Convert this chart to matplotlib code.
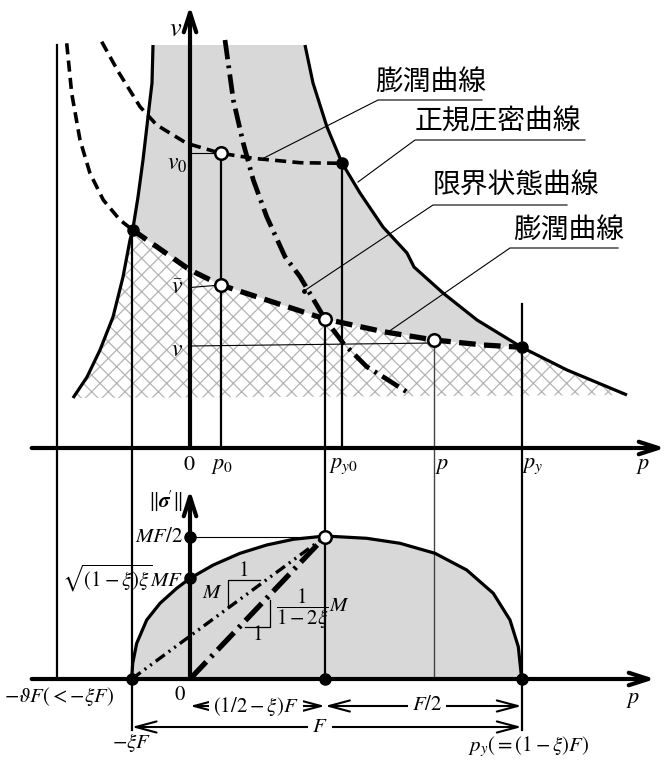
import matplotlib.pyplot as plt

plt.rcParams['font.family'] = ['Liberation Serif', 'DejaVu Serif']
plt.rcParams['mathtext.fontset'] = 'stix'
plt.rcParams['lines.scale_dashes'] = False
plt.rcParams['hatch.linewidth'] = 0.9

# ---- upper diagram (p - v plane), coordinates
ncl_left_x = [153, 152, 148, 143, 138, 132.7, 130, 123, 113, 100, 87, 73]
ncl_left_y = [45, 83, 117, 160, 197, 230, 240, 277, 317, 350, 377, 398]
ncl_right_x = [305, 313, 327, 342, 360, 383, 407, 414, 443, 477, 521.7, 567, 627]
ncl_right_y = [45, 83, 127, 163, 193, 227, 253, 267, 293, 320, 347.3, 370, 395]
i_left, i_right = 5, 10

swell_up_x = [101.7, 118.3, 140, 156.7, 186.7, 220.7, 253.3, 300, 341.7]
swell_up_y = [41.7, 71.7, 106.7, 125, 143.3, 153.3, 158.3, 162.7, 163.3]

swell_lo_left_x = [66.7, 71.7, 80, 90, 103.3, 120, 132.7]
swell_lo_left_y = [43.3, 93.3, 140, 173.3, 200, 220, 230]
swell_lo_x = [132.7, 156.7, 190, 220.7, 266.7, 325, 383.3, 434.3, 483.3, 521.7]
swell_lo_y = [230, 246.7, 270, 285, 300, 319, 331.7, 340, 345, 347.3]

csl_x = [225, 233.3, 243.3, 253.3, 266.7, 285, 300, 325, 343.3, 366.7, 385, 410]
csl_y = [40, 100, 143.3, 180, 216.7, 256.7, 276.7, 319, 343.3, 366.7, 378, 394]

top_dots_x = [132.7, 341.7, 521.7]
top_dots_y = [230, 163.3, 347.3]
top_open_x = [220.7, 220.7, 325, 434.3]
top_open_y = [153.3, 285, 319, 340]

# ---- lower diagram (p - ||sigma'|| plane)
yield_x = [131.7, 132.7, 136.7, 146.7, 160, 176.7, 190, 213.3, 240, 266.7, 293.3, 325,
           366.7, 400, 435, 466.7, 493.3, 510, 518.3, 521.7]
yield_y = [679, 663.3, 643.3, 620, 603.3, 588.3, 578.3, 565, 553.3, 545, 539.3, 536,
           538.3, 543.3, 553.3, 570, 593.3, 620, 646.7, 679]
bot_dots_x = [131.7, 190, 190, 325, 521.7]
bot_dots_y = [679, 536.7, 578.3, 679, 679]

fig = plt.figure(figsize=(6.66, 7.62), dpi=100)
ax = fig.add_axes([0, 0, 1, 1])
ax.set_xlim(0, 666)
ax.set_ylim(762, 0)
ax.axis('off')

grey = '#d8d8d8'

# grey region between NCL branches above the swelling line
gx = ncl_right_x[:i_right + 1] + swell_lo_x[::-1] + ncl_left_x[:i_left + 1][::-1]
gy = ncl_right_y[:i_right + 1] + swell_lo_y[::-1] + ncl_left_y[:i_left + 1][::-1]
ax.fill(gx, gy, color=grey, lw=0, zorder=1)

# hatched region below swelling line
hx = swell_lo_x + ncl_right_x[i_right + 1:] + ncl_left_x[i_left:][::-1]
hy = swell_lo_y + ncl_right_y[i_right + 1:] + ncl_left_y[i_left:][::-1]
ax.fill(hx, hy, facecolor='white', edgecolor='#b4b4b4', hatch='xx', lw=0, zorder=1)

# lower ellipse
ax.fill(yield_x, yield_y, color=grey, lw=0, zorder=1)

# vertical guide lines
vlines = [(57.3, 45, 679, 1.6, 'k'), (131.7, 230, 730, 1.6, 'k'), (220.7, 153, 448, 1.6, 'k'),
          (325, 319, 679, 1.6, 'k'), (341.7, 163, 448, 1.6, 'k'), (434.3, 340, 679, 1.0, '#444444'),
          (521.7, 304, 730, 1.6, 'k')]
for x, y0, y1, w, c in vlines:
    ax.plot([x, x], [y0, y1], color=c, lw=w, zorder=2)

# thin horizontal reading lines
ax.plot([190, 220.7], [153.3, 153.3], color='k', lw=0.8, zorder=2)
ax.plot([190, 220.7], [287.5, 285], color='k', lw=0.8, zorder=2)
ax.plot([190, 434.3], [346, 343], color='k', lw=0.8, zorder=2)
ax.plot([190, 325], [536.7, 536.7], color='k', lw=0.8, zorder=2)

# curves
ax.plot(ncl_left_x, ncl_left_y, color='k', lw=2.3, zorder=4, solid_capstyle='butt')
ax.plot(ncl_right_x, ncl_right_y, color='k', lw=2.3, zorder=4, solid_capstyle='butt')
ax.plot(swell_up_x, swell_up_y, color='k', lw=2.6, ls=(0, (8, 4.5)), zorder=4)
ax.plot(swell_lo_left_x, swell_lo_left_y, color='k', lw=2.6, ls=(0, (8, 4.5)), zorder=4)
ax.plot(swell_lo_x, swell_lo_y, color='k', lw=3.8, ls=(0, (12, 6)), zorder=4)
ax.plot(csl_x, csl_y, color='k', lw=3.4, ls=(0, (14, 4.5, 2, 4.5)), zorder=4)
ax.plot(yield_x, yield_y, color='k', lw=2.3, zorder=4)

# lines to the apex in lower diagram
ax.plot([131.7, 325], [679, 536.7], color='k', lw=2.4, ls=(0, (8, 3.5, 1.5, 3.5, 1.5, 3.5)), zorder=4)
ax.plot([190, 325], [679, 536.7], color='k', lw=3.8, ls=(0, (17, 5, 2, 5)), zorder=4)

# slope triangles
ax.plot([260, 227.7, 227.7], [580, 580, 606.7], color='k', lw=0.9, zorder=3)
ax.plot([245, 270, 270], [626.7, 626.7, 600], color='k', lw=0.9, zorder=3)

# axes with arrows
arrow_kw = dict(arrowstyle='->,head_length=1.4,head_width=0.45', lw=3, color='k',
                shrinkA=0, shrinkB=0)
ax.annotate('', xy=(190, 6), xytext=(190, 448), arrowprops=arrow_kw, zorder=5)
ax.annotate('', xy=(665, 448), xytext=(31.7, 448), arrowprops=arrow_kw, zorder=5)
ax.annotate('', xy=(190, 490), xytext=(190, 679), arrowprops=arrow_kw, zorder=5)
ax.annotate('', xy=(655, 679), xytext=(31.7, 679), arrowprops=arrow_kw, zorder=5)

# dots
ax.plot(top_dots_x, top_dots_y, 'o', color='k', ms=8, zorder=6)
ax.plot(top_open_x, top_open_y, 'o', mfc='white', mec='k', mew=1.8, ms=9, zorder=6)
ax.plot(bot_dots_x, bot_dots_y, 'o', color='k', ms=8, zorder=6)
ax.plot([325], [536.7], 'o', mfc='white', mec='k', mew=1.8, ms=9, zorder=6)

# leader lines with underlined Japanese labels
jp = ['Noto Sans CJK JP', 'DejaVu Sans']
leaders = [([260, 378, 482], [160, 100, 100], '膨潤曲線', 375, 97),
           ([358, 415, 585], [182, 140, 140], '正規圧密曲線', 415, 137),
           ([304, 433, 567], [291, 205, 205], '限界状態曲線', 433, 200),
           ([388, 510, 618], [332, 248, 248], '膨潤曲線', 513, 245)]
for lx, ly, txt, tx, ty in leaders:
    ax.plot(lx, ly, color='k', lw=0.8, zorder=3)
    ax.text(tx, ty, txt, family=jp, fontsize=20, ha='left', va='bottom', zorder=7)
ax.plot([304], [291], 'o', color='k', ms=2.5, zorder=6)

# axis labels
fs = 17
ax.text(176, 30, '$v$', fontsize=19, ha='center', va='center')
ax.text(177, 164, '$v_0$', fontsize=fs, ha='center', va='center')
ax.text(177, 288, r'$\bar{v}$', fontsize=fs, ha='center', va='center')
ax.text(177, 351, '$v$', fontsize=fs, ha='center', va='center')

p_label_x = [189, 222, 344, 442, 533, 643]
p_label_txt = ['$0$', '$p_0$', '$p_{y0}$', '$p$', '$p_y$', '$p$']
for x, t in zip(p_label_x, p_label_txt):
    ax.text(x, 466, t, fontsize=16, ha='center', va='center')

ax.text(183, 501, r"$\Vert\boldsymbol{\sigma}\!'\Vert$", fontsize=15, ha='right', va='center')
ax.text(183, 537, '$MF/2$', fontsize=15, ha='right', va='center')
ax.text(183, 578, r'$\sqrt{(1-\xi)\xi}MF$', fontsize=15, ha='right', va='center')
ax.text(212, 594, '$M$', fontsize=15, ha='center', va='center')
ax.text(243, 571, '$1$', fontsize=15, ha='center', va='center')
ax.text(257, 636, '$1$', fontsize=15, ha='center', va='center')
ax.text(276, 609, r'$\dfrac{1}{1-2\xi}M$', fontsize=15, ha='left', va='center')

ax.text(59, 697, r'$-\vartheta F(<-\xi F)$', fontsize=15, ha='center', va='center')
ax.text(180, 695, '$0$', fontsize=15, ha='center', va='center')
ax.text(132, 743, r'$-\xi F$', fontsize=15, ha='center', va='center')
ax.text(529, 747, r'$p_y(=(1-\xi)F)$', fontsize=15, ha='center', va='center')
ax.text(633, 700, '$p$', fontsize=16, ha='center', va='center')

# dimension arrows
dim_kw = dict(arrowstyle='<->,head_length=1.5,head_width=0.4', lw=1.5, color='k',
              shrinkA=0, shrinkB=0)
dims = [(190, 325, 706, r'$(1/2-\xi)F$', 256),
        (325, 521.7, 706, '$F/2$', 427),
        (131.7, 521.7, 727, '$F$', 320)]
for x0, x1, y, t, tx in dims:
    ax.annotate('', xy=(x0, y), xytext=(x1, y), arrowprops=dim_kw)
    ax.text(tx, y, t, fontsize=15, ha='center', va='center',
            bbox=dict(fc='white', ec='none', pad=3))

fig.savefig('out.png', dpi=100)
